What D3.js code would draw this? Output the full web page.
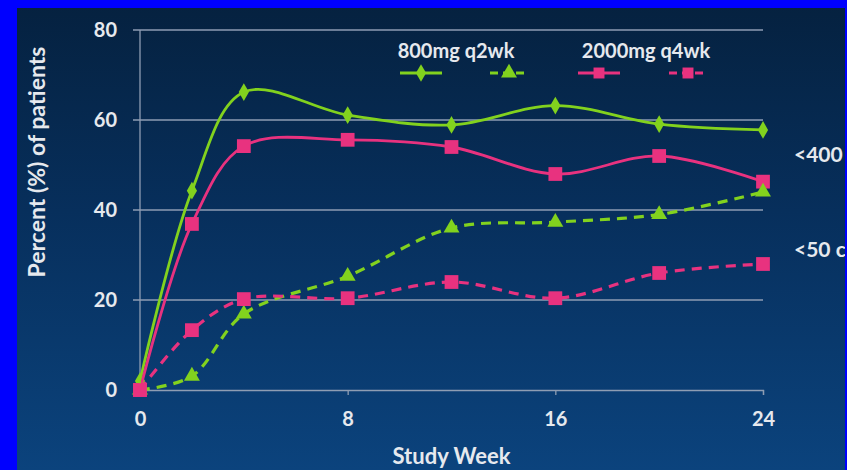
<!DOCTYPE html>
<html>
<head>
<meta charset="utf-8">
<script src="https://cdn.jsdelivr.net/npm/d3@7"></script>
<style>
  html, body { margin: 0; padding: 0; background: #0000ff; }
  svg { display: block; }
  text { font-family: Lato, "Open Sans", sans-serif; font-weight: 700; }
</style>
</head>
<body>
<svg id="chart" width="847" height="470"></svg>
<script>
// Study weeks and response rates (% of patients)
const weeks = [0, 2, 4, 8, 12, 16, 20, 24];
const q2wkBelow400 = [2, 44.3, 66.2, 61.1, 58.9, 63.2, 59.1, 57.8];
const q4wkBelow400 = [0, 36.9, 54.2, 55.6, 54, 48, 52, 46.3];
const q2wkBelow50 = [0, 3.1, 16.9, 25.3, 36, 37.3, 39, 44];
const q4wkBelow50 = [0, 13.3, 20.2, 20.4, 24, 20.4, 26, 28];
const xTicks = [0, 8, 16, 24];
const yTicks = [0, 20, 40, 60, 80];
const legendGroups = ["800mg q2wk", "2000mg q4wk"];
const thresholdLabels = ["<400 copies/mL", "<50 copies/mL"];

const green = "#82d21e";
const pink = "#e8327f";
const textColor = "#e6e9ee";

const svg = d3.select("#chart");
const W = 847, H = 470;

// background gradient panel
const defs = svg.append("defs");
const grad = defs.append("linearGradient").attr("id", "bg").attr("x1", 0).attr("y1", 0).attr("x2", 0).attr("y2", 1);
grad.append("stop").attr("offset", "0%").attr("stop-color", "#05213f");
grad.append("stop").attr("offset", "45%").attr("stop-color", "#072f5c");
grad.append("stop").attr("offset", "100%").attr("stop-color", "#0b437d");
svg.append("rect").attr("x", 0).attr("y", 0).attr("width", W).attr("height", H).attr("fill", "url(#bg)");

const x = d3.scaleLinear().domain([0, 24]).range([140, 763]);
const y = d3.scaleLinear().domain([0, 80]).range([390, 30]);

const gridColor = "#8e9db3";

// horizontal gridlines
svg.append("g").selectAll("line").data(yTicks.filter(d => d > 0)).join("line")
  .attr("x1", 133).attr("x2", x(24))
  .attr("y1", d => y(d)).attr("y2", d => y(d))
  .attr("stroke", gridColor).attr("stroke-width", 1.3);

// vertical axis line
svg.append("line").attr("x1", x(0)).attr("x2", x(0)).attr("y1", y(80)).attr("y2", y(0))
  .attr("stroke", gridColor).attr("stroke-width", 1.3);

// x axis
const xAxis = d3.axisBottom(x).tickValues(xTicks).tickSize(5).tickFormat(d3.format("d"));
const gx = svg.append("g").attr("transform", `translate(0,${y(0)})`).call(xAxis);
gx.select(".domain").attr("stroke", gridColor).attr("stroke-width", 1.3);
gx.selectAll(".tick line").attr("stroke", gridColor).attr("stroke-width", 1.3);
gx.selectAll(".tick text").attr("fill", textColor).attr("font-size", 20).attr("dy", 0).attr("y", 36)
  .style("font-family", "Lato, sans-serif").style("font-weight", 700);

// y tick labels
const yAxis = d3.axisLeft(y).tickValues(yTicks).tickSize(0).tickPadding(0).tickFormat(d3.format("d"));
const gy = svg.append("g").attr("transform", `translate(117,0)`).call(yAxis);
gy.select(".domain").remove();
gy.selectAll(".tick text").attr("fill", textColor).attr("font-size", 20)
  .style("font-family", "Lato, sans-serif").style("font-weight", 700);

// axis titles
svg.append("text").attr("x", x(12)).attr("y", 464).attr("text-anchor", "middle")
  .attr("fill", textColor).attr("font-size", 22).text("Study Week");
svg.append("text").attr("transform", "translate(45,162) rotate(-90)").attr("text-anchor", "middle")
  .attr("fill", textColor).attr("font-size", 23).text("Percent (%) of patients");

// series
const series = [
  { values: q2wkBelow400, color: green, dash: null, marker: "diamond" },
  { values: q4wkBelow400, color: pink, dash: null, marker: "square" },
  { values: q2wkBelow50, color: green, dash: "10,7", marker: "triangle" },
  { values: q4wkBelow50, color: pink, dash: "10,7", marker: "square" }
];

const line = d3.line().x(d => x(d[0])).y(d => y(d[1])).curve(d3.curveCatmullRom.alpha(0.5));

const symbolFor = m => m === "diamond" ? d3.symbol(d3.symbolDiamond, 90)
  : m === "triangle" ? d3.symbol(d3.symbolTriangle, 110)
  : d3.symbol(d3.symbolSquare, 190);

series.forEach(s => {
  const pts = weeks.map((w, i) => [w, s.values[i]]);
  svg.append("path").attr("d", line(pts)).attr("fill", "none")
    .attr("stroke", s.color).attr("stroke-width", s.dash ? 3.2 : 2.8)
    .attr("stroke-dasharray", s.dash);
  svg.append("g").selectAll("path").data(pts).join("path")
    .attr("transform", d => `translate(${x(d[0])},${y(d[1])})`)
    .attr("d", symbolFor(s.marker)()).attr("fill", s.color);
});

// legend
svg.append("text").attr("x", 456).attr("y", 58).attr("text-anchor", "middle")
  .attr("fill", textColor).attr("font-size", 20).text(legendGroups[0]);
svg.append("text").attr("x", 646).attr("y", 58).attr("text-anchor", "middle")
  .attr("fill", textColor).attr("font-size", 20).text(legendGroups[1]);

const legendItems = [
  { cx: 421, half: 21, color: green, dash: null, marker: "diamond" },
  { cx: 509, half: 19, color: green, dash: "8,5", marker: "triangle" },
  { cx: 599, half: 21, color: pink, dash: null, marker: "square" },
  { cx: 688, half: 19, color: pink, dash: "8,5", marker: "square" }
];
legendItems.forEach(l => {
  svg.append("line").attr("x1", l.cx - l.half).attr("x2", l.cx + l.half).attr("y1", 73).attr("y2", 73)
    .attr("stroke", l.color).attr("stroke-width", 2.8).attr("stroke-dasharray", l.dash);
  svg.append("path").attr("transform", `translate(${l.cx},73)`)
    .attr("d", (l.marker === "square" ? d3.symbol(d3.symbolSquare, 120) : symbolFor(l.marker))())
    .attr("fill", l.color);
});

// threshold labels at right, running past the frame edge
svg.append("text").attr("x", 794).attr("y", 162).attr("fill", textColor).attr("font-size", 21).text(thresholdLabels[0]);
svg.append("text").attr("x", 794).attr("y", 257).attr("fill", textColor).attr("font-size", 21).text(thresholdLabels[1]);

// frame
svg.append("rect").attr("x", 0).attr("y", 0).attr("width", 17).attr("height", H).attr("fill", "#0000ff");
svg.append("rect").attr("x", 0).attr("y", 0).attr("width", W).attr("height", 8).attr("fill", "#0000ff");
svg.append("rect").attr("x", 845).attr("y", 0).attr("width", 2).attr("height", H).attr("fill", "#0000ff");
</script>
</body>
</html>
